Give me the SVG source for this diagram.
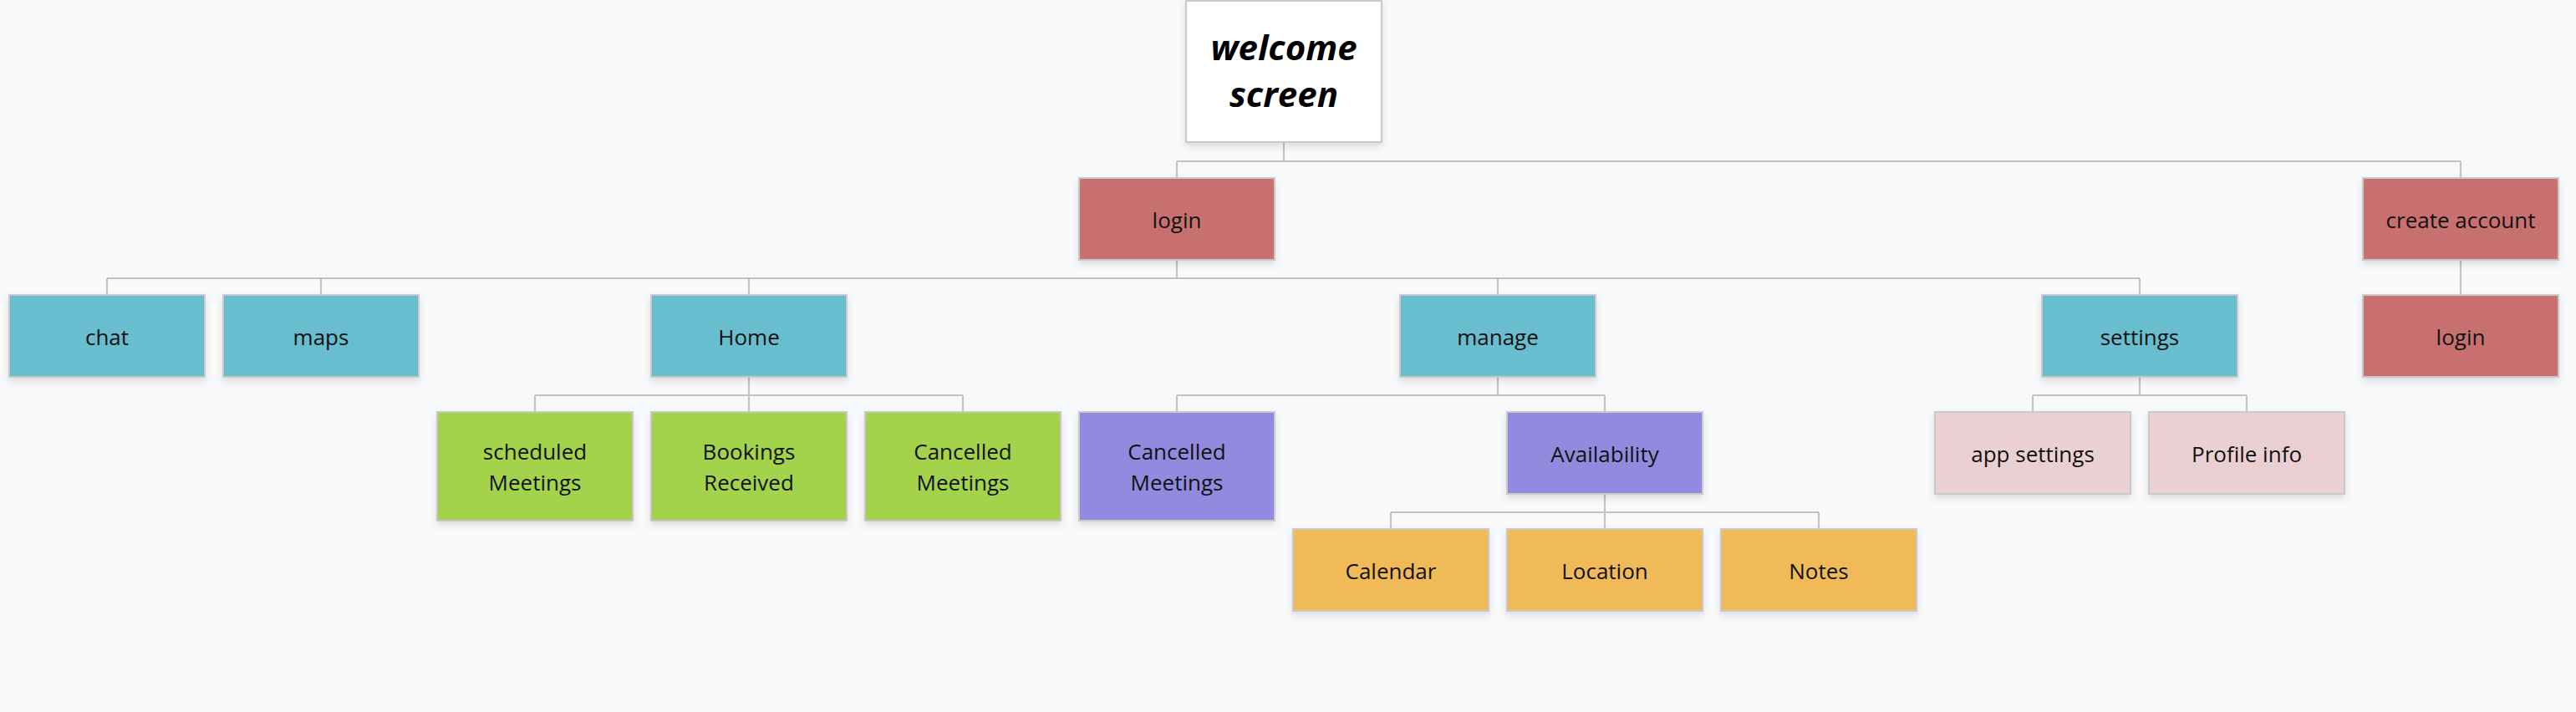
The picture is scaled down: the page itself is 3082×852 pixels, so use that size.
<svg xmlns="http://www.w3.org/2000/svg" width="3082" height="852" viewBox="0 0 3082 852">
<style>
.n{stroke:#C9C9CA;stroke-width:2;filter:url(#sh)}
.red{fill:#C87070}.teal{fill:#67BDCF}.green{fill:#A3D34C}.purple{fill:#928ADF}.orange{fill:#F0BA59}.pink{fill:#EBD0D3}.white{fill:#FFFFFF}
text{font-family:"Open Sans","Liberation Sans",sans-serif;font-size:26px;fill:#111;text-anchor:middle}
.big{font-size:42px;font-weight:bold;font-style:italic;fill:#000}
#conn path{fill:none;stroke:#C0C1C5;stroke-width:2}
</style>
<defs>
<filter id="sh" x="-10%" y="-10%" width="120%" height="130%">
<feDropShadow dx="0" dy="4" stdDeviation="4" flood-color="#000" flood-opacity="0.12"/>
</filter>
</defs>
<rect width="3082" height="852" fill="#F8F9FB"/>
<g id="conn">
<path d="M1536 170V193M1408 193H2944M1408 193V213M2944 193V213"/>
<path d="M1408 311V333M128 333H2560M128 333V353M384 333V353M896 333V353M1792 333V353M2560 333V353"/>
<path d="M2944 311V353"/>
<path d="M896 451V473M640 473H1152M640 473V493M896 473V493M1152 473V493"/>
<path d="M1792 451V473M1408 473H1920M1408 473V493M1920 473V493"/>
<path d="M2560 451V473M2432 473H2688M2432 473V493M2688 473V493"/>
<path d="M1920 591V613M1664 613H2176M1664 613V633M1920 613V633M2176 613V633"/>
</g>
<g id="welcome"><rect class="n white" x="1419" y="1" width="234" height="169"/><text class="big" x="1536" y="72">welcome</text><text class="big" x="1536" y="128">screen</text></g>
<g id="login"><rect class="n red" x="1291" y="213" width="234" height="98"/><text x="1408" y="273">login</text></g>
<g id="create-account"><rect class="n red" x="2827" y="213" width="234" height="98"/><text x="2944" y="273">create account</text></g>
<g id="login2"><rect class="n red" x="2827" y="353" width="234" height="98"/><text x="2944" y="413">login</text></g>
<g id="chat"><rect class="n teal" x="11" y="353" width="234" height="98"/><text x="128" y="413">chat</text></g>
<g id="maps"><rect class="n teal" x="267" y="353" width="234" height="98"/><text x="384" y="413">maps</text></g>
<g id="home"><rect class="n teal" x="779" y="353" width="234" height="98"/><text x="896" y="413">Home</text></g>
<g id="manage"><rect class="n teal" x="1675" y="353" width="234" height="98"/><text x="1792" y="413">manage</text></g>
<g id="settings"><rect class="n teal" x="2443" y="353" width="234" height="98"/><text x="2560" y="413">settings</text></g>
<g id="scheduled"><rect class="n green" x="523" y="493" width="234" height="130"/><text x="640" y="550">scheduled</text><text x="640" y="587">Meetings</text></g>
<g id="bookings"><rect class="n green" x="779" y="493" width="234" height="130"/><text x="896" y="550">Bookings</text><text x="896" y="587">Received</text></g>
<g id="cancelled-home"><rect class="n green" x="1035" y="493" width="234" height="130"/><text x="1152" y="550">Cancelled</text><text x="1152" y="587">Meetings</text></g>
<g id="cancelled-manage"><rect class="n purple" x="1291" y="493" width="234" height="130"/><text x="1408" y="550">Cancelled</text><text x="1408" y="587">Meetings</text></g>
<g id="availability"><rect class="n purple" x="1803" y="493" width="234" height="98"/><text x="1920" y="553">Availability</text></g>
<g id="app-settings"><rect class="n pink" x="2315" y="493" width="234" height="98"/><text x="2432" y="553">app settings</text></g>
<g id="profile-info"><rect class="n pink" x="2571" y="493" width="234" height="98"/><text x="2688" y="553">Profile info</text></g>
<g id="calendar"><rect class="n orange" x="1547" y="633" width="234" height="98"/><text x="1664" y="693">Calendar</text></g>
<g id="location"><rect class="n orange" x="1803" y="633" width="234" height="98"/><text x="1920" y="693">Location</text></g>
<g id="notes"><rect class="n orange" x="2059" y="633" width="234" height="98"/><text x="2176" y="693">Notes</text></g>
</svg>
